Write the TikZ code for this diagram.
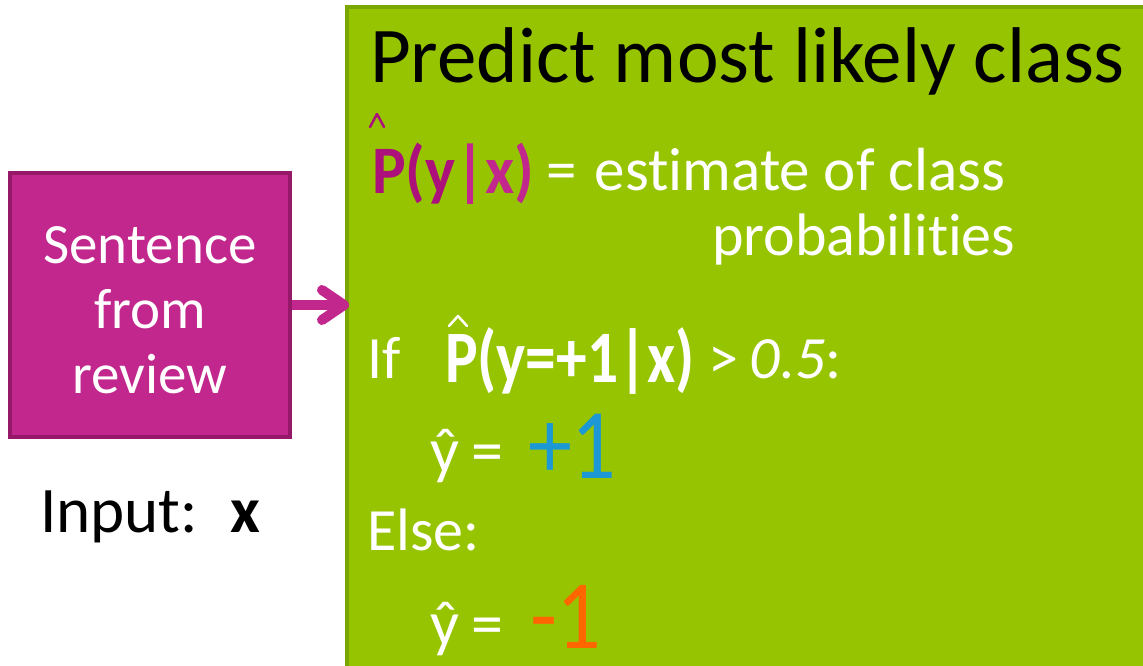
\documentclass[tikz,border=0pt]{standalone}
\usepackage{fontspec}
\setmainfont{Carlito}[Ligatures=NoCommon]
\usetikzlibrary{arrows.meta}
\definecolor{gfill}{RGB}{151,196,0}
\definecolor{gborder}{RGB}{122,166,0}
\definecolor{mfill}{RGB}{193,39,140}
\definecolor{mborder}{RGB}{150,25,105}
\definecolor{mdark}{RGB}{172,16,122}
\definecolor{plusblue}{RGB}{28,152,212}
\definecolor{minusorange}{RGB}{255,102,0}
\begin{document}
\begin{tikzpicture}[x=1pt,y=-1pt,
  txt/.style={anchor=base west,inner sep=0pt,outer sep=0pt},
  wtxt/.style={txt,text=white},
  hat/.style={line width=2.5pt,line join=round,line cap=round},
  conn/.style={mfill,line width=10pt,line join=round,line cap=butt}]
\useasboundingbox (0,0) rectangle (1143,665);
\clip (0,0) rectangle (1143,665);
\fill[white] (0,0) rectangle (1143,665);
% green panel
\draw[fill=gfill,draw=gborder,line width=4pt] (347,7) rectangle (1160,690);
\coordinate (predwest) at (347,306);
% magenta box
\node[draw=mborder,fill=mfill,line width=4pt,minimum width=280pt,minimum height=264pt,
  inner sep=0pt] (sent) at (150,305) {};
\node[inner sep=0pt,align=center,text=white,font=\fontsize{57}{65}\selectfont]
  (senttext) at (150,310) {Sentence\\from\\review};
\coordinate (tip) at ([xshift=-3pt]sent.east -| predwest);
\draw[conn] (sent.east) -- ([xshift=-4pt]tip);
\draw[conn,line cap=round] ([shift={(-22pt,15pt)}]tip) -- (tip) -- ([shift={(-22pt,-15pt)}]tip);
% input
\node[txt,font=\fontsize{65}{65}\selectfont] (inp) at (40,532) {Input:\hspace{0.5em}\textbf{x}};
% title
\node[txt,font=\fontsize{79}{79}\selectfont] (title) at (370,82) {Predict most likely class};
% P(y|x)
\node[txt,font=\fontsize{68}{68}\selectfont\bfseries] (pyx) at (372,193)
  {\scalebox{0.93}[1]{\textcolor{mdark}{P(y}\textcolor{mfill}{|x)}}};
\draw[mdark,hat] (370,127) -- (377,114) -- (384,127);
\node[wtxt,font=\fontsize{61}{61}\selectfont] (est) at (546,190) {=\hspace{0.3em}estimate of class};
\node[wtxt,font=\fontsize{60}{60}\selectfont] (prob) at (712,255) {probabilities};
% If line
\node[wtxt,font=\fontsize{60}{60}\selectfont] (if) at (367,378) {If};
\node[wtxt,font=\fontsize{74}{74}\selectfont\bfseries] (pcond) at (445,382) {\scalebox{0.83}[1]{P(y=+1|x)}};
\draw[white,hat] (449,326) -- (458,316) -- (467,326);
\node[wtxt,font=\fontsize{60}{60}\selectfont] (gt) at (708,378) {>\hspace{0.2em}\textit{0.5}:};
% yhat = +1
\node[wtxt,font=\fontsize{64}{64}\selectfont] (yh1) at (430,472) {ŷ\hspace{0.2em}=};
\node[txt,text=plusblue,font=\fontsize{100}{100}\selectfont] (plus) at (528,478) {\scalebox{0.88}[1]{+1}};
% Else
\node[wtxt,font=\fontsize{60}{60}\selectfont] (else) at (367,550) {Else:};
\node[wtxt,font=\fontsize{64}{64}\selectfont] (yh2) at (430,645) {ŷ\hspace{0.2em}=};
\node[txt,text=minusorange,font=\fontsize{98}{98}\selectfont] (minus) at (530,648) {\scalebox{0.9}[1]{-1}};
\end{tikzpicture}
\end{document}
